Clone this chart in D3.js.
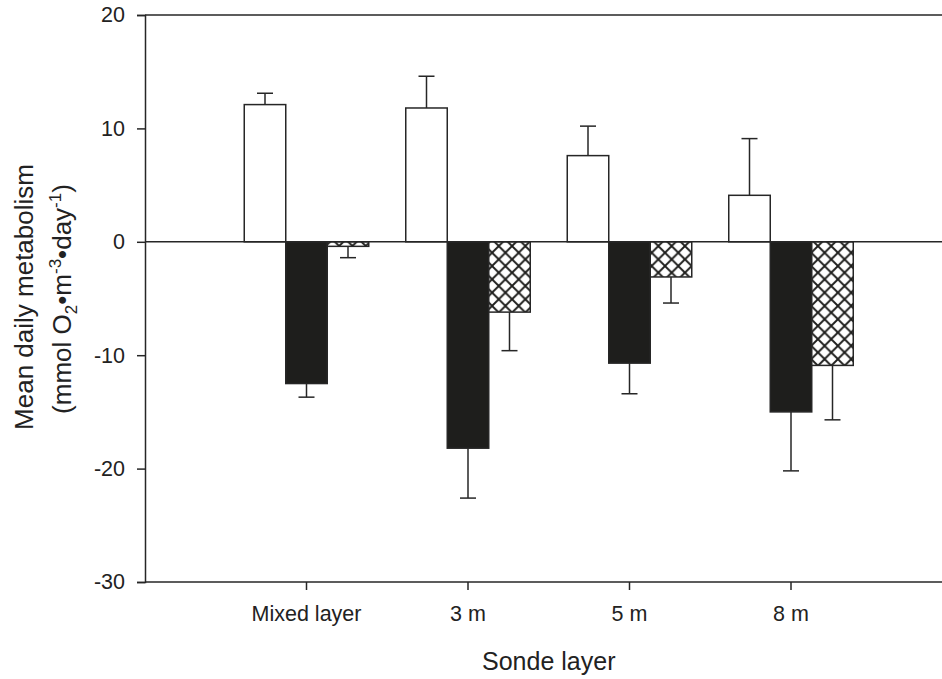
<!DOCTYPE html>
<html>
<head>
<meta charset="utf-8">
<script src="https://cdn.jsdelivr.net/npm/d3@7"></script>
<style>
  body { margin: 0; background: #fff; }
  svg { display: block; font-family: "Liberation Sans", Arial, sans-serif; }
</style>
</head>
<body>
<div id="chart"></div>
<script>
// values (mmol O2 m-3 day-1)
const categories = ['Mixed layer', '3 m', '5 m', '8 m'];
const seriesNames = ['GPP', 'R', 'NEP'];
const gpp    = [12.1, 11.8, 7.6, 4.1];
const gppErr = [1.0, 2.8, 2.6, 5.0];
const resp    = [-12.5, -18.2, -10.7, -15.0];
const respErr = [1.2, 4.4, 2.7, 5.2];
const nep    = [-0.4, -6.2, -3.1, -10.9];
const nepErr = [1.0, 3.4, 2.3, 4.8];
const yTicks = [-30, -20, -10, 0, 10, 20];

const width = 942, height = 679;
const margin = {top: 15, left: 145, bottom: 97};
const plotRight = 952.5;   // the frame runs past the window edge
const ink = '#262626';

const svg = d3.select('#chart').append('svg').attr('width', width).attr('height', height);

// cross hatch for the third series
const hs = 13.3;
const pat = svg.append('defs').append('pattern').attr('id', 'xhatch')
  .attr('patternUnits', 'userSpaceOnUse').attr('width', hs).attr('height', hs);
pat.append('rect').attr('width', hs).attr('height', hs).attr('fill', '#fff');
pat.append('path').attr('d', `M0,0L${hs},${hs}M${hs},0L0,${hs}`)
  .attr('stroke', '#1e1e1c').attr('stroke-width', 1.9);

const y = d3.scaleLinear().domain([-30, 20]).range([height - margin.bottom, margin.top]);
const step = (plotRight - margin.left) / 5;
const x = d3.scaleBand().domain(categories)
  .range([margin.left + step / 2, plotRight - step / 2]).padding(0);
const xs = d3.scaleBand().domain(seriesNames).range([-62.25, 62.25]).padding(0);

const fills = {GPP: '#fff', R: '#1e1e1c', NEP: 'url(#xhatch)'};
const rows = [];
categories.forEach((c, i) => {
  rows.push({cat: c, s: 'GPP', v: gpp[i], e: gppErr[i]});
  rows.push({cat: c, s: 'R', v: resp[i], e: respErr[i]});
  rows.push({cat: c, s: 'NEP', v: nep[i], e: nepErr[i]});
});
const cx = d => x(d.cat) + x.bandwidth() / 2;

// error bars (only the side away from zero)
const eb = svg.append('g').attr('stroke', ink).attr('stroke-width', 1.5);
rows.forEach(d => {
  const xm = cx(d) + xs(d.s) + xs.bandwidth() / 2;
  const end = d.v >= 0 ? d.v + d.e : d.v - d.e;
  eb.append('line').attr('x1', xm).attr('x2', xm).attr('y1', y(d.v)).attr('y2', y(end));
  eb.append('line').attr('x1', xm - 8).attr('x2', xm + 8).attr('y1', y(end)).attr('y2', y(end));
});

// bars
svg.append('g').selectAll('rect').data(rows).join('rect')
  .attr('x', d => cx(d) + xs(d.s))
  .attr('width', xs.bandwidth())
  .attr('y', d => y(Math.max(0, d.v)))
  .attr('height', d => Math.abs(y(d.v) - y(0)))
  .attr('fill', d => fills[d.s])
  .attr('stroke', ink).attr('stroke-width', 1.5);

// frame: top line, zero line
svg.append('line').attr('x1', margin.left).attr('x2', plotRight)
  .attr('y1', y(20)).attr('y2', y(20)).attr('stroke', ink).attr('stroke-width', 1.5);
svg.append('line').attr('x1', margin.left).attr('x2', plotRight)
  .attr('y1', y(0)).attr('y2', y(0)).attr('stroke', ink).attr('stroke-width', 1.5);

// axes
const yAxis = svg.append('g').attr('transform', `translate(${margin.left},0)`)
  .call(d3.axisLeft(y).tickValues(yTicks).tickFormat(d => String(d)).tickSize(8).tickPadding(12));
const xAxis = svg.append('g').attr('transform', `translate(0,${y(-30)})`)
  .call(d3.axisBottom(x).tickSize(8).tickPadding(16));
xAxis.select('.domain').attr('d', `M${margin.left},0H${plotRight}`);
[yAxis, xAxis].forEach(g => {
  g.select('.domain').attr('stroke', ink).attr('stroke-width', 1.5);
  g.selectAll('.tick line').attr('stroke', ink).attr('stroke-width', 1.5);
  g.selectAll('.tick text').attr('fill', '#222').attr('font-size', 21.5)
    .attr('font-family', '"Liberation Sans", Arial, sans-serif');
});

// axis titles
svg.append('text').attr('x', (margin.left + plotRight) / 2).attr('y', 670)
  .attr('text-anchor', 'middle').attr('font-size', 25).attr('fill', '#222')
  .text('Sonde layer');

const yt = svg.append('text').attr('transform', 'translate(33,297) rotate(-90)')
  .attr('text-anchor', 'middle').attr('font-size', 26).attr('fill', '#222');
yt.append('tspan').attr('x', 0).attr('y', 0).text('Mean daily metabolism');
const l2 = svg.append('text').attr('transform', 'translate(71,299) rotate(-90)')
  .attr('text-anchor', 'middle').attr('font-size', 26).attr('fill', '#222');
l2.append('tspan').text('(mmol O');
l2.append('tspan').attr('font-size', 17).attr('dy', 6).text('2');
l2.append('tspan').attr('dy', -6).text('\u2022m');
l2.append('tspan').attr('font-size', 17).attr('dy', -10).text('-3');
l2.append('tspan').attr('dy', 10).text('\u2022day');
l2.append('tspan').attr('font-size', 17).attr('dy', -10).text('-1');
l2.append('tspan').attr('dy', 10).text(')');
</script>
</body>
</html>
